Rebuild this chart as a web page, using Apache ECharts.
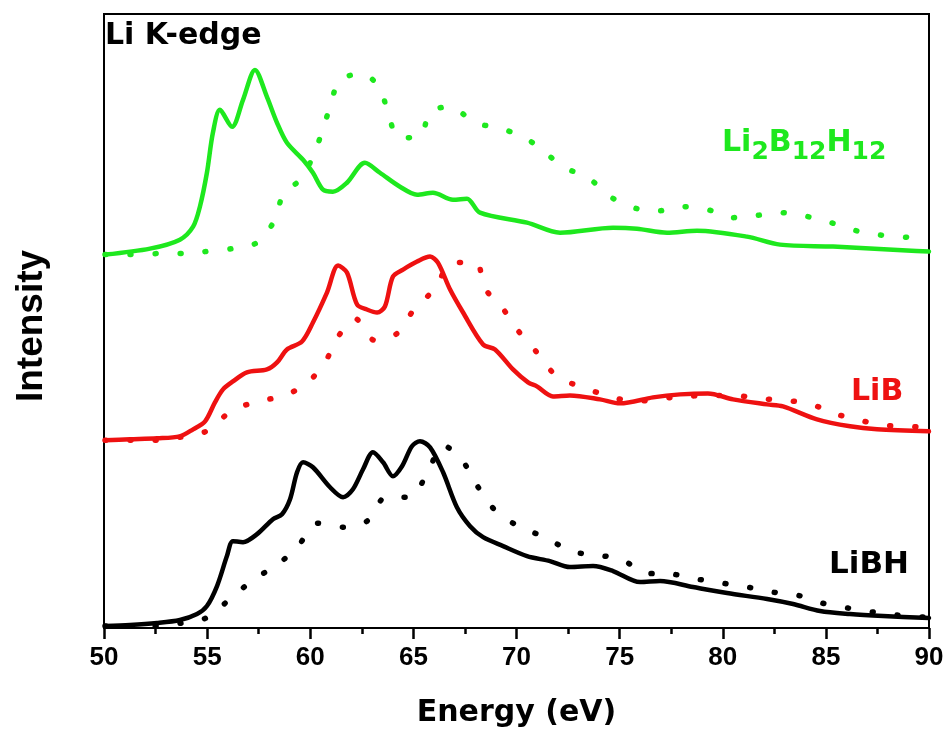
<!DOCTYPE html>
<html>
<head>
<meta charset="utf-8">
<script src="https://cdn.jsdelivr.net/npm/echarts@6/dist/echarts.min.js"></script>
<style>
html,body{margin:0;padding:0;background:#fff;}
#chart{width:947px;height:733px;}
</style>
</head>
<body>
<div id="chart"></div>
<script>
// ---- Data (Energy in eV, intensity in arbitrary units, offset stacked) ----
const xTicks = [50, 55, 60, 65, 70, 75, 80, 85, 90];

// Li2B12H12 solid
const e_B12_solid = [50.05,52.23,53.68,54.32,54.65,54.99,55.28,55.62,56.21,56.74,57.32,57.90,58.39,58.87,59.65,60.13,60.62,61.10,61.78,62.65,63.38,64.35,65.18,65.95,66.92,67.60,68.23,70.51,72.11,74.68,75.84,77.30,78.75,81.18,82.78,85.35,88.93,90.00];
const i_B12_solid = [3.74,3.80,3.89,4.02,4.22,4.56,4.96,5.19,5.02,5.29,5.59,5.32,5.06,4.86,4.69,4.56,4.39,4.37,4.46,4.66,4.56,4.42,4.34,4.36,4.29,4.30,4.16,4.06,3.96,4.01,4.00,3.96,3.98,3.92,3.84,3.82,3.78,3.77];
// Li2B12H12 dotted
const e_B12_dot = [50.05,51.26,52.57,53.78,54.90,56.21,57.42,58.29,58.68,59.50,60.13,60.57,60.96,61.44,62.56,63.38,63.77,64.30,65.32,65.81,66.78,67.99,69.10,70.32,71.24,72.25,73.47,74.63,75.84,76.96,78.07,79.28,80.45,81.56,82.78,83.89,85.10,86.27,87.48,88.59,90.00];
const i_B12_dot = [3.74,3.74,3.75,3.75,3.77,3.80,3.86,4.09,4.34,4.49,4.72,4.97,5.22,5.49,5.55,5.40,5.16,4.91,4.92,5.17,5.22,5.06,5.01,4.92,4.79,4.62,4.51,4.31,4.20,4.18,4.22,4.19,4.11,4.13,4.16,4.13,4.07,3.99,3.94,3.92,3.89];

// LiB solid
const e_LiB_solid = [50.05,51.26,52.57,53.68,54.32,54.90,55.38,55.77,56.25,56.93,57.90,58.39,58.87,59.60,60.13,60.81,61.35,61.78,62.27,62.75,63.24,63.62,64.01,64.50,65.18,65.81,66.19,66.78,67.41,68.38,68.96,69.83,70.56,70.99,71.77,72.59,74.05,75.02,76.62,77.93,79.28,80.50,82.15,82.92,84.57,86.17,87.48,90.00];
const i_LiB_solid = [1.88,1.89,1.90,1.92,1.99,2.07,2.26,2.39,2.47,2.56,2.59,2.66,2.79,2.87,3.06,3.36,3.63,3.56,3.24,3.19,3.16,3.22,3.52,3.59,3.67,3.72,3.66,3.39,3.16,2.84,2.79,2.59,2.46,2.42,2.32,2.33,2.29,2.25,2.31,2.34,2.35,2.29,2.24,2.22,2.09,2.02,1.99,1.97];
// LiB dotted
const e_LiB_dot = [50.05,51.26,52.57,53.68,54.95,56.16,57.42,58.63,59.84,60.76,61.39,62.17,63.14,64.21,65.03,66.05,66.87,68.04,68.47,69.30,70.07,70.99,71.96,73.22,74.39,75.65,78.07,80.50,81.76,82.97,84.18,85.39,86.65,87.87,89.08,90.00];
const i_LiB_dot = [1.88,1.88,1.88,1.91,1.97,2.17,2.27,2.32,2.45,2.68,2.93,3.10,2.88,2.95,3.19,3.40,3.66,3.66,3.40,3.21,2.98,2.76,2.52,2.41,2.33,2.27,2.32,2.33,2.30,2.28,2.25,2.15,2.08,2.03,2.02,2.00];

// LiBH solid
const e_LiBH_solid = [50.05,51.26,52.57,53.68,54.51,54.99,55.48,55.96,56.25,56.74,57.42,58.19,58.63,59.02,59.36,59.65,60.13,60.96,61.59,62.07,62.56,63.04,63.53,64.01,64.45,64.93,65.32,65.81,66.44,67.11,67.75,68.38,69.35,70.51,71.62,72.59,73.71,74.68,75.99,76.96,78.56,80.21,82.15,83.41,84.72,86.17,87.77,90.00];
const i_LiBH_solid = [0.02,0.03,0.05,0.08,0.14,0.22,0.42,0.72,0.87,0.86,0.94,1.09,1.14,1.29,1.56,1.66,1.61,1.41,1.31,1.39,1.59,1.76,1.66,1.52,1.62,1.82,1.87,1.81,1.56,1.21,1.02,0.91,0.82,0.72,0.67,0.61,0.62,0.57,0.46,0.47,0.41,0.35,0.29,0.24,0.17,0.14,0.12,0.10];
// LiBH dotted
const e_LiBH_dot = [50.05,51.26,52.57,53.78,54.95,56.16,57.22,58.44,59.41,60.33,61.59,62.75,63.67,64.84,65.71,66.44,67.36,68.08,68.96,70.17,71.38,72.64,73.85,75.07,76.28,77.54,78.75,79.96,81.18,82.39,83.60,84.81,86.07,87.28,88.45,89.71,90.00];
const i_LiBH_dot = [0.02,0.02,0.02,0.05,0.10,0.30,0.48,0.64,0.82,1.05,1.01,1.07,1.31,1.31,1.57,1.83,1.68,1.43,1.18,1.01,0.91,0.77,0.73,0.69,0.55,0.54,0.49,0.45,0.41,0.36,0.33,0.25,0.20,0.16,0.13,0.11,0.11];

const GREEN = '#1ee81e', RED = '#ee1111', BLACK = '#000000';
const Y_MIN = 0, Y_MAX = 6.15;

function zip(a, b) { return a.map((v, k) => [v, b[k]]); }

function solid(name, e, i, color) {
  return { name, type: 'line', data: zip(e, i), showSymbol: false, silent: true, smooth: 0.3,
    lineStyle: { color, width: 4.5, cap: 'round', join: 'round' }, z: 3 };
}
function dotted(name, e, i, color) {
  return { name, type: 'line', data: zip(e, i), showSymbol: false, silent: true, smooth: 0.3,
    lineStyle: { color, width: 5.5, type: [1, 24], cap: 'round' }, z: 2 };
}

const chart = echarts.init(document.getElementById('chart'), null, { renderer: 'canvas' });
chart.setOption({
  animation: false,
  backgroundColor: '#fff',
  grid: { left: 104, right: 18, top: 14, bottom: 104, show: true, borderColor: '#000', borderWidth: 2 },
  xAxis: {
    type: 'value', min: 50, max: 90, interval: 5,
    name: 'Energy (eV)', nameLocation: 'middle', nameGap: 70,
    nameTextStyle: { fontSize: 30, fontWeight: 'bold', fontFamily: 'DejaVu Sans', color: '#000' },
    axisLine: { show: true, onZero: false, lineStyle: { color: '#000', width: 2 } },
    axisTick: { show: true, length: 11, lineStyle: { color: '#000', width: 2.5 } },
    minorTick: { show: true, splitNumber: 2, length: 6, lineStyle: { color: '#000', width: 2.5 } },
    splitLine: { show: false },
    axisLabel: { fontSize: 26, fontWeight: 'bold', fontFamily: 'Liberation Sans', color: '#000', margin: 17 }
  },
  yAxis: {
    type: 'value', min: Y_MIN, max: Y_MAX,
    name: 'Intensity', nameLocation: 'middle', nameGap: 54,
    nameTextStyle: { fontSize: 37, fontWeight: 'bold', fontFamily: 'Liberation Sans', color: '#000', padding: [0, 10, 0, 0] },
    axisLine: { show: true, onZero: false, lineStyle: { color: '#000', width: 2 } },
    axisTick: { show: false }, axisLabel: { show: false }, splitLine: { show: false }
  },
  series: [
    dotted('Li2B12H12 ref', e_B12_dot, i_B12_dot, GREEN),
    solid('Li2B12H12', e_B12_solid, i_B12_solid, GREEN),
    dotted('LiB ref', e_LiB_dot, i_LiB_dot, RED),
    solid('LiB', e_LiB_solid, i_LiB_solid, RED),
    dotted('LiBH ref', e_LiBH_dot, i_LiBH_dot, BLACK),
    solid('LiBH', e_LiBH_solid, i_LiBH_solid, BLACK)
  ],
  graphic: [
    { type: 'text', x: 105, y: 36, z: 10, style: { text: 'Li K-edge', fill: '#000', fontSize: 30, fontWeight: 'bold', fontFamily: 'DejaVu Sans', verticalAlign: 'middle', align: 'left' } },
    { type: 'text', x: 722, y: 128, z: 10, style: {
        text: '{n|Li}{s|2}{n|B}{s|12}{n|H}{s|12}', fill: GREEN, align: 'left', verticalAlign: 'top',
        rich: {
          n: { fontSize: 30, lineHeight: 30, fontWeight: 'bold', fontFamily: 'DejaVu Sans', fill: GREEN, verticalAlign: 'top' },
          s: { fontSize: 25, lineHeight: 25, fontWeight: 'bold', fontFamily: 'DejaVu Sans', fill: GREEN, verticalAlign: 'top', padding: [12, 0, 0, 0] }
        } } },
    { type: 'text', x: 851, y: 392, z: 10, style: { text: 'LiB', fill: RED, fontSize: 30, fontWeight: 'bold', fontFamily: 'DejaVu Sans', verticalAlign: 'middle', align: 'left' } },
    { type: 'text', x: 829, y: 565, z: 10, style: { text: 'LiBH', fill: '#000', fontSize: 31, fontWeight: 'bold', fontFamily: 'DejaVu Sans', verticalAlign: 'middle', align: 'left' } }
  ]
});
</script>
</body>
</html>
